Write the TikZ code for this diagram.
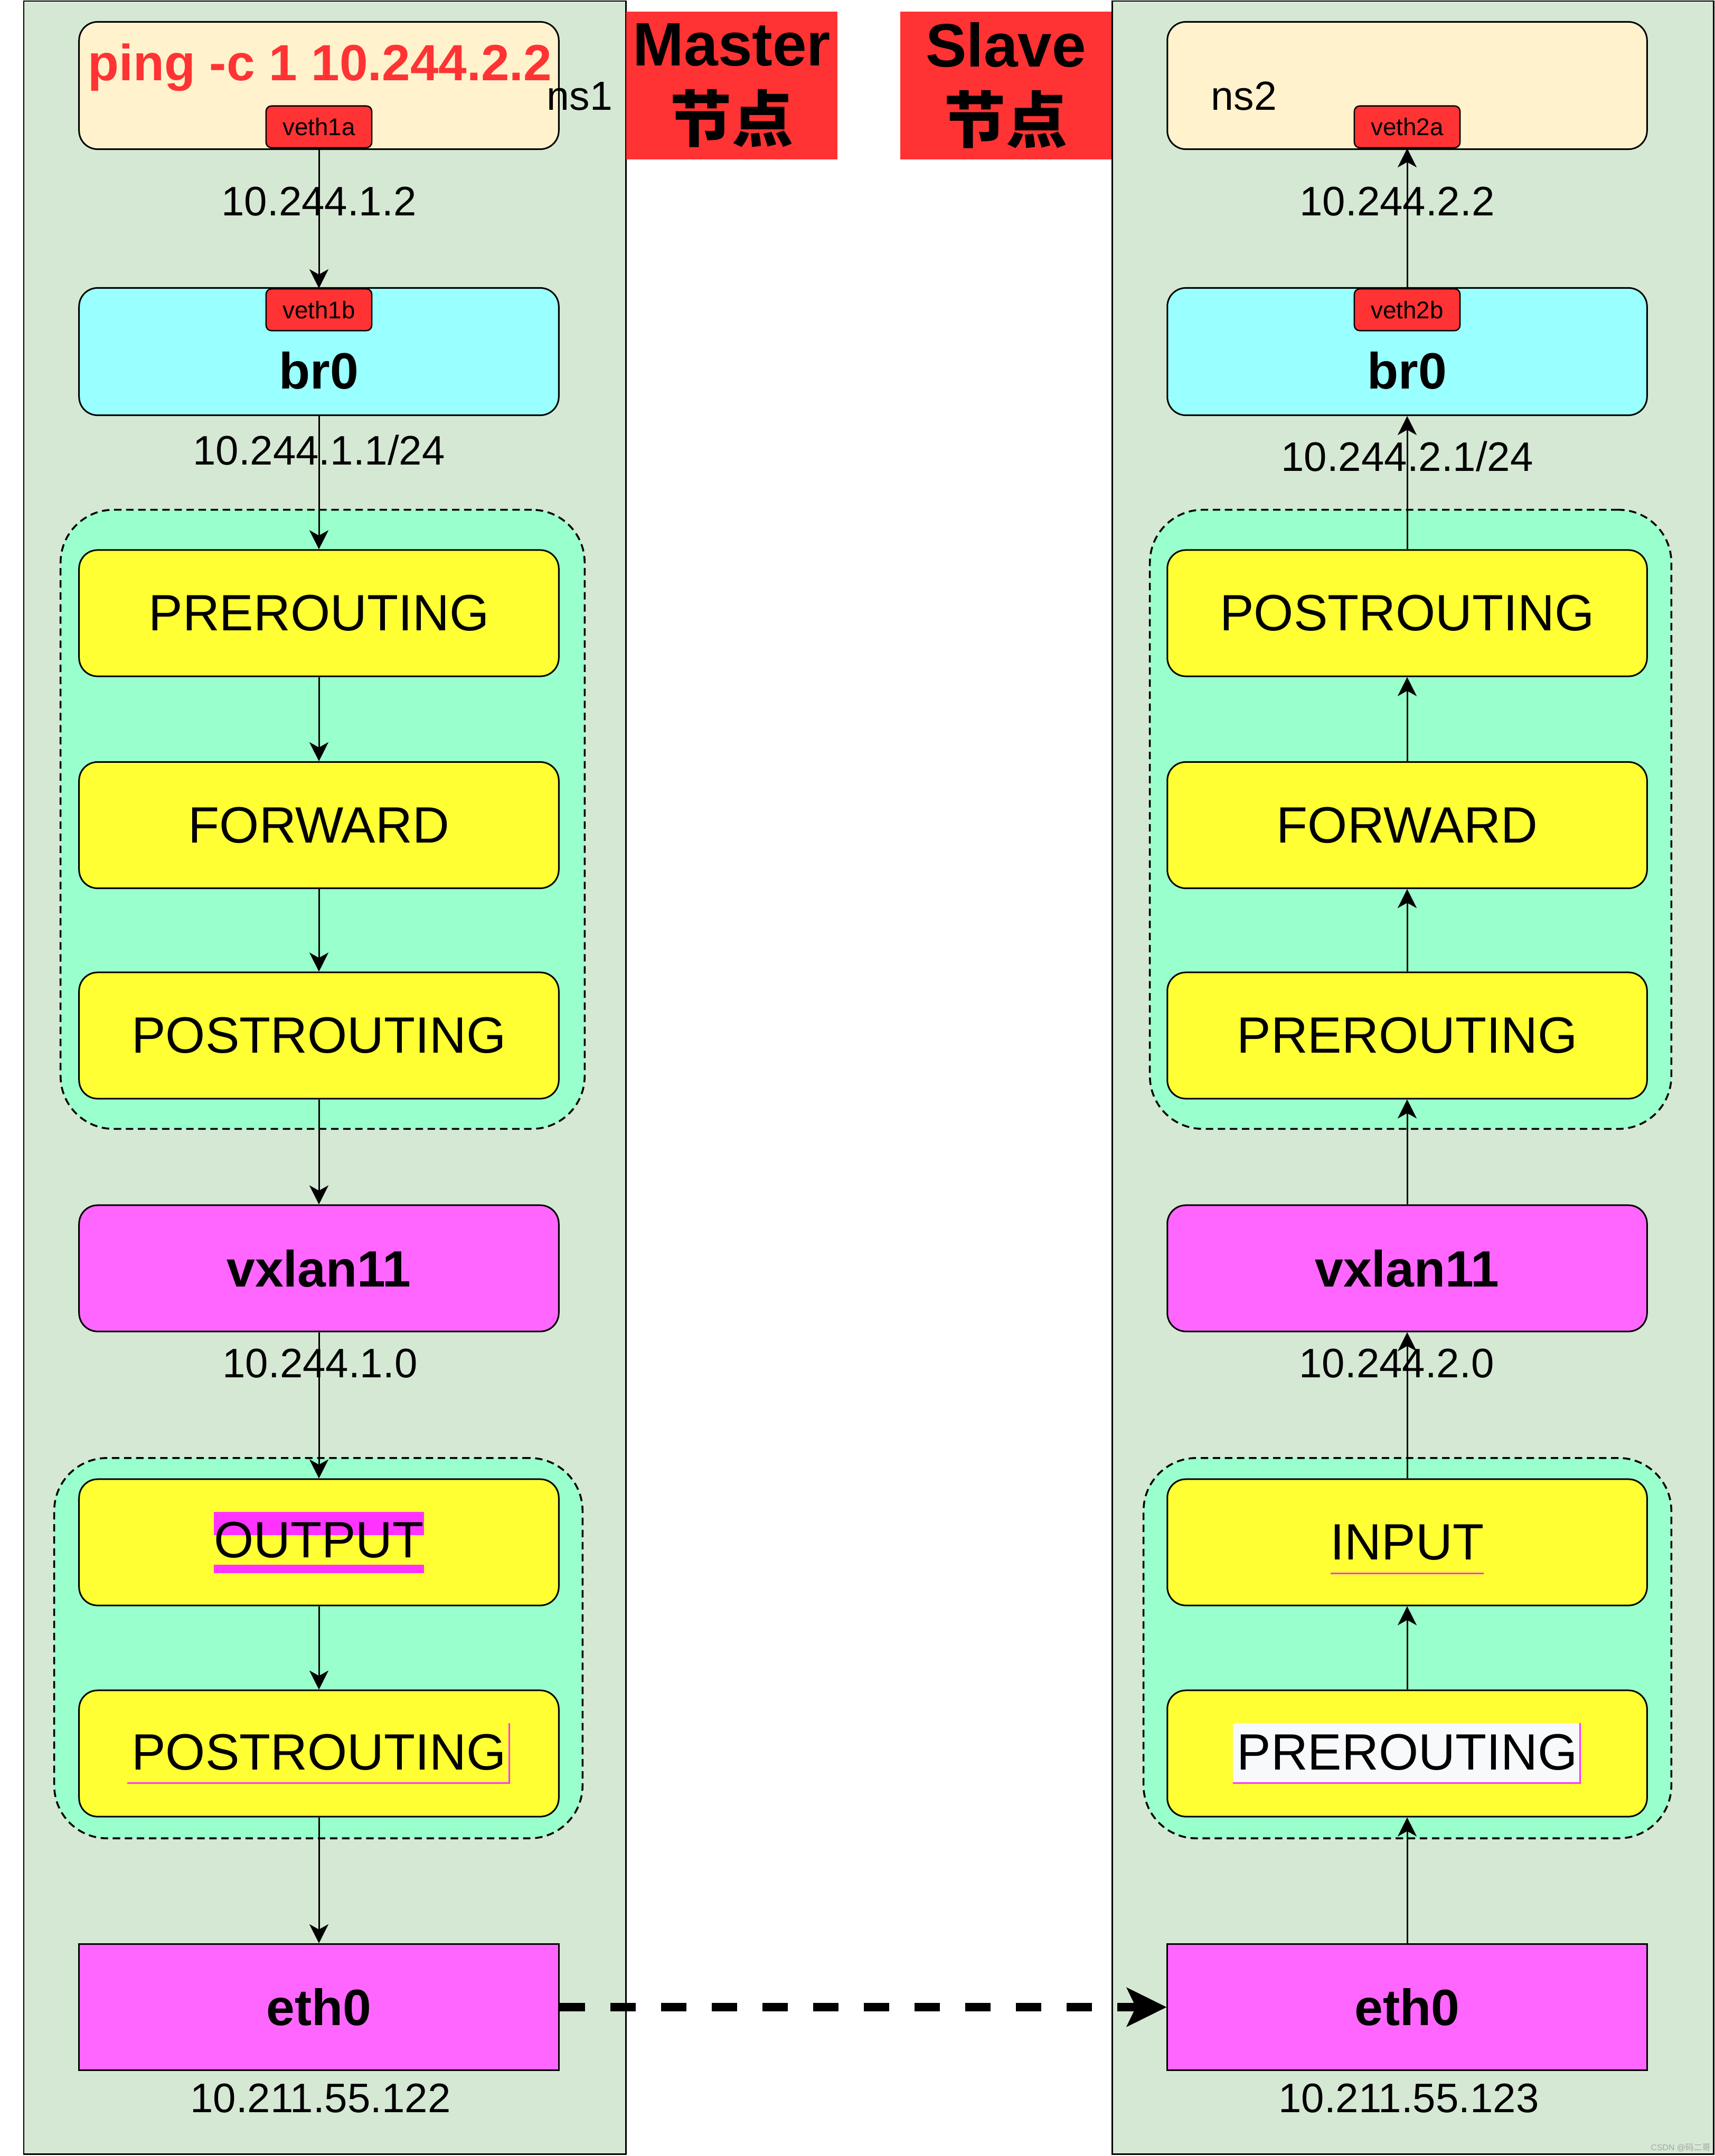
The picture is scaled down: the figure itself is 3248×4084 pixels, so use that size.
\documentclass[tikz,border=0pt]{standalone}
\usepackage{fontspec}
\setmainfont{Liberation Sans}
\newfontfamily\cjk{Noto Sans CJK SC}
\usetikzlibrary{arrows.meta,positioning}

\definecolor{panelgreen}{HTML}{D5E8D4}
\definecolor{nsyellow}{HTML}{FFF2CC}
\definecolor{bridgecyan}{HTML}{99FFFF}
\definecolor{vethred}{HTML}{FF3333}
\definecolor{chainmint}{HTML}{99FFCC}
\definecolor{hookyellow}{HTML}{FFFF33}
\definecolor{devpink}{HTML}{FF66FF}
\definecolor{hlpink}{HTML}{FF33FF}
\definecolor{hlwhite}{HTML}{F8F9FA}

\newsavebox\hlsave
% pink bands behind a word
\newcommand\hlbands[1]{\sbox\hlsave{#1}%
  \rlap{\color{hlpink}\rule[0.43cm]{\wd\hlsave}{0.44cm}}%
  \rlap{\color{hlpink}\rule[-0.29cm]{\wd\hlsave}{0.16cm}}%
  \usebox\hlsave}
% thin pink underline
\newcommand\hlunder[1]{\sbox\hlsave{#1}%
  \rlap{\color{hlpink}\smash{\rule[-0.28cm]{\wd\hlsave}{0.03cm}}}%
  \usebox\hlsave}
% background with pink bottom and right edge
\newcommand\hlframe[2]{\sbox\hlsave{#2}%
  \rlap{\hspace{-0.08cm}\color{#1}\rule[-0.27cm]{\dimexpr\wd\hlsave+0.15cm\relax}{1.15cm}}%
  \rlap{\hspace{-0.08cm}\color{hlpink}\rule[-0.27cm]{\dimexpr\wd\hlsave+0.15cm\relax}{0.03cm}}%
  \rlap{\hspace{\dimexpr\wd\hlsave+0.04cm\relax}\color{hlpink}\rule[-0.27cm]{0.03cm}{1.15cm}}%
  \usebox\hlsave}

\tikzset{
  panel/.style={draw, line width=0.85pt, fill=panelgreen},
  nsbox/.style={draw, line width=0.85pt, rounded corners=0.35cm, fill=nsyellow,
    minimum width=9.08cm, minimum height=2.41cm, inner sep=0pt},
  vport/.style={draw, line width=0.7pt, rounded corners=0.1cm, fill=vethred,
    minimum width=2.0cm, minimum height=0.79cm, inner sep=0pt, font=\fontsize{13}{15}\selectfont},
  chain/.style={draw, line width=1pt, dash pattern=on 4pt off 2.5pt, rounded corners=1cm, fill=chainmint},
  hook/.style={draw, line width=0.85pt, rounded corners=0.35cm, fill=hookyellow,
    minimum width=9.08cm, minimum height=2.39cm, inner sep=0pt, font=\fontsize{27.5}{30}\selectfont},
  dev/.style={hook, fill=devpink, font=\bfseries\fontsize{27.5}{30}\selectfont},
  nic/.style={dev, sharp corners},
  addr/.style={font=\fontsize{22.2}{24}\selectfont, anchor=base, inner sep=0pt},
  bigname/.style={font=\bfseries\fontsize{27.5}{30}\selectfont, anchor=base, inner sep=0pt},
  tag/.style={fill=vethred, minimum width=4.0cm, minimum height=2.8cm, align=center,
    font=\bfseries\fontsize{33}{41}\selectfont},
  flow/.style={line width=0.85pt, -{Stealth[length=0.36cm,width=0.36cm,inset=0.1cm]}},
  wire/.style={line width=4.5pt, dash pattern=on 0.48cm off 0.48cm,
    -{Stealth[length=0.76cm,width=0.75cm,inset=0.18cm,line width=1pt]}},
}

\begin{document}
\begin{tikzpicture}[x=0.01cm, y=-0.01cm]
\useasboundingbox (0,0) rectangle (3248,4084);

% node panels
\draw[panel] (45,2) rectangle (1185,4080);
\draw[panel] (2106,2) rectangle (3245,4080);

% titles
\node[tag] (mtag) at (1386,162) {Master\\{\cjk 节点}};
\node[tag] (stag) at (1905,162) {Slave\\{\cjk 节点}};

% ---- Master side ----
\node[nsbox] (ns1) at (604,162) {};
\node[font=\bfseries\fontsize{27.4}{30}\selectfont, text=vethred, anchor=base, inner sep=0pt] (ping) at (606,152) {ping -c 1 10.244.2.2};
\node[font=\fontsize{21.9}{24}\selectfont, anchor=base, inner sep=0pt] (ns1name) at (1098,208) {ns1};
\node[vport, anchor=south] (veth1a) at (604,281) {veth1a};
\node[addr] (ip1a) at (604,408) {10.244.1.2};

\node[nsbox, fill=bridgecyan] (brL) at (604,666) {};
\node[vport, anchor=north] (veth1b) at (604,546) {veth1b};
\node[bigname] (brLname) at (604,736) {br0};
\draw[bridgecyan, line width=0.6pt] (404,784) -- (803,784);
\node[addr] (ip1b) at (604,880) {10.244.1.1/24};

\node[chain, minimum width=9.92cm, minimum height=11.72cm] (chainL) at (611,1552) {};
\node[hook] (preL) at (604,1161.5) {PREROUTING};
\node[hook] (fwdL) at (604,1563) {FORWARD};
\node[hook] (postL) at (604,1961.5) {POSTROUTING};

\node[dev] (vxL) at (604,2402.5) {vxlan11};
\node[addr] (ip1c) at (606,2609) {10.244.1.0};

\node[chain, minimum width=10.0cm, minimum height=7.2cm] (chainL2) at (603,3122) {};
\node[hook] (outL) at (604,2921.5) {\hlbands{OUTPUT}};
\node[hook] (post2L) at (604,3321.5) {\hlframe{hookyellow}{POSTROUTING}};

\node[nic] (ethL) at (604,3802) {eth0};
\node[addr] (ip1d) at (607,4001) {10.211.55.122};

% ---- Slave side ----
\node[nsbox] (ns2) at (2665,162) {};
\node[font=\fontsize{21.9}{24}\selectfont, anchor=base, inner sep=0pt] (ns2name) at (2356,208) {ns2};
\node[vport, anchor=south] (veth2a) at (2665,281) {veth2a};
\node[addr] (ip2a) at (2646,408) {10.244.2.2};

\node[nsbox, fill=bridgecyan] (brR) at (2665,666) {};
\node[vport, anchor=north] (veth2b) at (2665,546) {veth2b};
\node[bigname] (brRname) at (2665,736) {br0};
\draw[bridgecyan, line width=0.6pt] (2466,784) -- (2866,784);
\node[addr] (ip2b) at (2665,892) {10.244.2.1/24};

\node[chain, minimum width=9.87cm, minimum height=11.72cm] (chainR) at (2671.5,1552) {};
\node[hook] (postR) at (2665,1161.5) {POSTROUTING};
\node[hook] (fwdR) at (2665,1563) {FORWARD};
\node[hook] (preR) at (2665,1961.5) {PREROUTING};

\node[dev] (vxR) at (2665,2402.5) {vxlan11};
\node[addr] (ip2c) at (2645,2609) {10.244.2.0};

\node[chain, minimum width=9.99cm, minimum height=7.2cm] (chainR2) at (2665.5,3122) {};
\node[hook] (inR) at (2665,2921.5) {\hlunder{INPUT}};
\node[hook] (pre2R) at (2665,3321.5) {\hlframe{hlwhite}{PREROUTING}};

\node[nic] (ethR) at (2665,3802) {eth0};
\node[addr] (ip2d) at (2668,4001) {10.211.55.123};

% packet path, master
\draw[flow] (veth1a) -- (veth1b);
\draw[flow] (brL) -- (preL);
\draw[flow] (preL) -- (fwdL);
\draw[flow] (fwdL) -- (postL);
\draw[flow] (postL) -- (vxL);
\draw[flow] (vxL) -- (outL);
\draw[flow] (outL) -- (post2L);
\draw[flow] (post2L) -- (ethL);

% packet path, slave
\draw[flow] (ethR) -- (pre2R);
\draw[flow] (pre2R) -- (inR);
\draw[flow] (inR) -- (vxR);
\draw[flow] (vxR) -- (preR);
\draw[flow] (preR) -- (fwdR);
\draw[flow] (fwdR) -- (postR);
\draw[flow] (postR) -- (brR);
\draw[flow] (veth2b) -- (veth2a);

% underlay link
\draw[wire] (ethL) -- (ethR);

\node[font=\fontsize{4.5}{5}\selectfont, text=gray!70, inner sep=0pt] (wm) at (3183,4068) {CSDN @{\cjk 码二哥}};
\end{tikzpicture}
\end{document}
